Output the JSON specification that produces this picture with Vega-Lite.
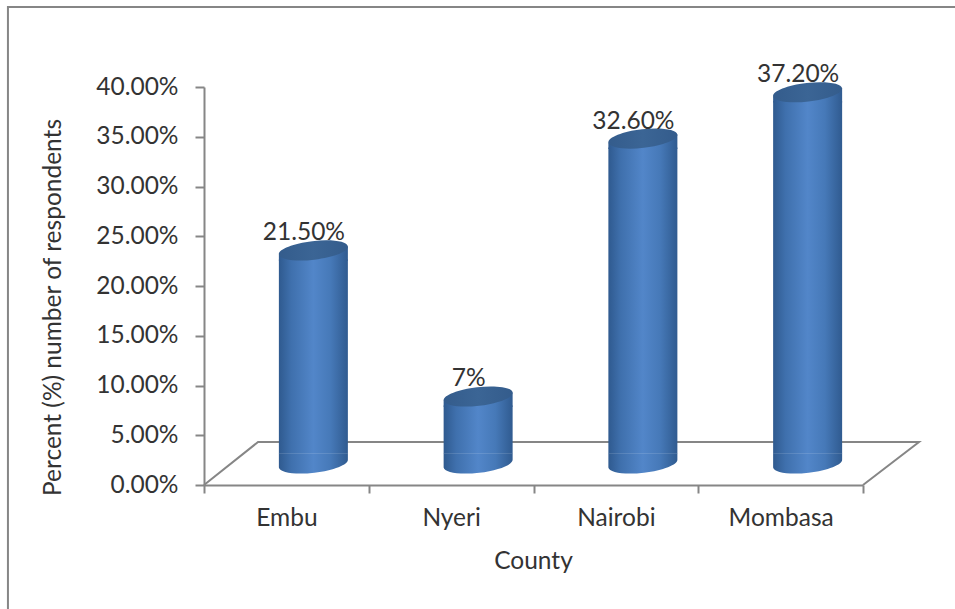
{
  "$schema": "https://vega.github.io/schema/vega-lite/v6.json",
  "width": 955,
  "height": 609,
  "padding": 0,
  "autosize": {"type": "none"},
  "background": "white",
  "config": {"view": {"stroke": null}, "font": "Lato"},
  "datasets": {
    "counties": [
      {"county": "Embu", "share": 21.5, "label": "21.50%"},
      {"county": "Nyeri", "share": 7, "label": "7%"},
      {"county": "Nairobi", "share": 32.6, "label": "32.60%"},
      {"county": "Mombasa", "share": 37.2, "label": "37.20%"}
    ],
    "outline": [
      {"part": "floor", "step": 1, "pos": 0, "pct": 0},
      {"part": "floor", "step": 2, "pos": 0.328, "pct": 4.32},
      {"part": "floor", "step": 3, "pos": 4.34, "pct": 4.32},
      {"part": "floor", "step": 4, "pos": 4, "pct": 0},
      {"part": "frame", "step": 1, "pos": -1.19, "pct": -12.5},
      {"part": "frame", "step": 2, "pos": -1.19, "pct": 48.04},
      {"part": "frame", "step": 3, "pos": 4.6, "pct": 48.04}
    ]
  },
  "resolve": {"scale": {"x": "independent", "y": "independent"}, "axis": {"x": "independent", "y": "independent"}},
  "layer": [
    {
      "data": {"name": "counties"},
      "mark": {"type": "bar", "opacity": 0},
      "encoding": {
        "x": {
          "field": "county", "type": "nominal", "sort": null,
          "scale": {"domain": ["Embu", "Nyeri", "Nairobi", "Mombasa"], "range": [204, 863], "paddingInner": 0, "paddingOuter": 0},
          "axis": {
            "title": "County", "offset": -124, "labelAngle": 0, "tickBand": "extent", "tickSize": 8, "tickWidth": 2,
            "tickColor": "#868686", "domainColor": "#868686", "domainWidth": 2, "labelFont": "Lato", "labelFontSize": 24.5,
            "labelFontWeight": "normal", "labelColor": "#333333", "labelPadding": 13, "titleFont": "Lato", "titleFontSize": 24.5,
            "titleFontWeight": "normal", "titleColor": "#333333", "titleX": 533, "titleY": 76, "titleBaseline": "middle"
          }
        },
        "y": {
          "field": "share", "type": "quantitative",
          "scale": {"domain": [0, 40], "range": [485, 87], "nice": false, "zero": false},
          "axis": {
            "title": "Percent (%) number of respondents", "offset": -204, "values": [0, 5, 10, 15, 20, 25, 30, 35, 40],
            "labelExpr": "format(datum.value, '.2f') + '%'", "grid": false, "tickSize": 9, "tickWidth": 2, "tickColor": "#868686",
            "domainColor": "#868686", "domainWidth": 2, "labelFont": "Lato", "labelFontSize": 24.5, "labelColor": "#333333",
            "labelPadding": 17, "titleFont": "Lato", "titleFontSize": 24.5, "titleFontWeight": "normal", "titleColor": "#333333",
            "titleX": -151, "titleY": 307, "titleBaseline": "middle"
          }
        }
      }
    },
    {
      "data": {"name": "outline"},
      "mark": {"type": "line", "stroke": "#868686", "strokeWidth": 2, "clip": false},
      "encoding": {
        "x": {"field": "pos", "type": "quantitative", "axis": null, "scale": {"domain": [0, 4], "range": [204, 863], "nice": false, "zero": false}},
        "y": {"field": "pct", "type": "quantitative", "axis": null, "scale": {"domain": [0, 40], "range": [485, 87], "nice": false, "zero": false}},
        "detail": {"field": "part"},
        "order": {"field": "step"}
      }
    },
    {
      "data": {"name": "counties"},
      "mark": {
        "type": "bar", "width": 69, "xOffset": 27, "yOffset": 9, "y2Offset": -13.5,
        "fill": {"x1": 0, "x2": 1, "y1": 0, "y2": 0, "gradient": "linear", "stops": [
          {"offset": 0, "color": "#2f5a8f"}, {"offset": 0.18, "color": "#3f70ad"}, {"offset": 0.5, "color": "#5286c9"},
          {"offset": 0.75, "color": "#4679b8"}, {"offset": 1, "color": "#305b90"}
        ]}
      },
      "encoding": {
        "x": {"field": "county", "type": "nominal", "sort": null, "axis": null, "scale": {"domain": ["Embu", "Nyeri", "Nairobi", "Mombasa"], "range": [204, 863], "paddingInner": 0, "paddingOuter": 0}},
        "y": {"field": "share", "type": "quantitative", "axis": null, "scale": {"domain": [0, 40], "range": [467, 64], "nice": false, "zero": false}},
        "y2": {"datum": 0}
      }
    },
    {
      "data": {"name": "counties"},
      "mark": {
        "type": "point", "filled": true, "opacity": 1, "size": 4761, "xOffset": 27, "yOffset": -3.5, "strokeWidth": 0,
        "shape": "M-1,-0.3 L1,-0.3 L1,-0.116 C1.017,0.032 0.583,0.204 0.031,0.268 C-0.521,0.332 -0.983,0.264 -1,0.116 Z",
        "fill": {"x1": 0, "x2": 1, "y1": 0, "y2": 0, "gradient": "linear", "stops": [
          {"offset": 0, "color": "#2f5a8f"}, {"offset": 0.18, "color": "#3f70ad"}, {"offset": 0.5, "color": "#5286c9"},
          {"offset": 0.75, "color": "#4679b8"}, {"offset": 1, "color": "#305b90"}
        ]}
      },
      "encoding": {
        "x": {"field": "county", "type": "nominal", "sort": null, "axis": null, "scale": {"domain": ["Embu", "Nyeri", "Nairobi", "Mombasa"], "range": [204, 863], "paddingInner": 0, "paddingOuter": 0}},
        "y": {"datum": 0, "type": "quantitative", "axis": null, "scale": {"domain": [0, 40], "range": [467, 64], "nice": false, "zero": false}}
      }
    },
    {
      "data": {"name": "counties"},
      "mark": {
        "type": "point", "filled": true, "opacity": 1, "size": 4761, "xOffset": 27, "strokeWidth": 0,
        "shape": "M-1,0.116 L1,-0.116 L1,0.3 L-1,0.3 Z",
        "fill": {"x1": 0, "x2": 1, "y1": 0, "y2": 0, "gradient": "linear", "stops": [
          {"offset": 0, "color": "#2f5a8f"}, {"offset": 0.18, "color": "#3f70ad"}, {"offset": 0.5, "color": "#5286c9"},
          {"offset": 0.75, "color": "#4679b8"}, {"offset": 1, "color": "#305b90"}
        ]}
      },
      "encoding": {
        "x": {"field": "county", "type": "nominal", "sort": null, "axis": null, "scale": {"domain": ["Embu", "Nyeri", "Nairobi", "Mombasa"], "range": [204, 863], "paddingInner": 0, "paddingOuter": 0}},
        "y": {"field": "share", "type": "quantitative", "axis": null, "scale": {"domain": [0, 40], "range": [467, 64], "nice": false, "zero": false}}
      }
    },
    {
      "data": {"name": "counties"},
      "mark": {
        "type": "point", "filled": true, "opacity": 1, "size": 4761, "xOffset": 27, "strokeWidth": 0,
        "shape": "M-1,0.116 C-1.017,-0.032 -0.583,-0.204 -0.031,-0.268 C0.521,-0.332 0.983,-0.264 1,-0.116 C1.017,0.032 0.583,0.204 0.031,0.268 C-0.521,0.332 -0.983,0.264 -1,0.116 Z",
        "fill": {"x1": 0, "x2": 1, "y1": 0, "y2": 0, "gradient": "linear", "stops": [
          {"offset": 0, "color": "#345c8c"}, {"offset": 0.5, "color": "#3b6595"}, {"offset": 1, "color": "#345c8c"}
        ]}
      },
      "encoding": {
        "x": {"field": "county", "type": "nominal", "sort": null, "axis": null, "scale": {"domain": ["Embu", "Nyeri", "Nairobi", "Mombasa"], "range": [204, 863], "paddingInner": 0, "paddingOuter": 0}},
        "y": {"field": "share", "type": "quantitative", "axis": null, "scale": {"domain": [0, 40], "range": [467, 64], "nice": false, "zero": false}}
      }
    },
    {
      "data": {"name": "counties"},
      "mark": {"type": "text", "font": "Lato", "fontSize": 24.5, "color": "#333333", "xOffset": 17.5, "yOffset": -10, "baseline": "alphabetic", "align": "center"},
      "encoding": {
        "x": {"field": "county", "type": "nominal", "sort": null, "axis": null, "scale": {"domain": ["Embu", "Nyeri", "Nairobi", "Mombasa"], "range": [204, 863], "paddingInner": 0, "paddingOuter": 0}},
        "y": {"field": "share", "type": "quantitative", "axis": null, "scale": {"domain": [0, 40], "range": [467, 64], "nice": false, "zero": false}},
        "text": {"field": "label"}
      }
    }
  ]
}
